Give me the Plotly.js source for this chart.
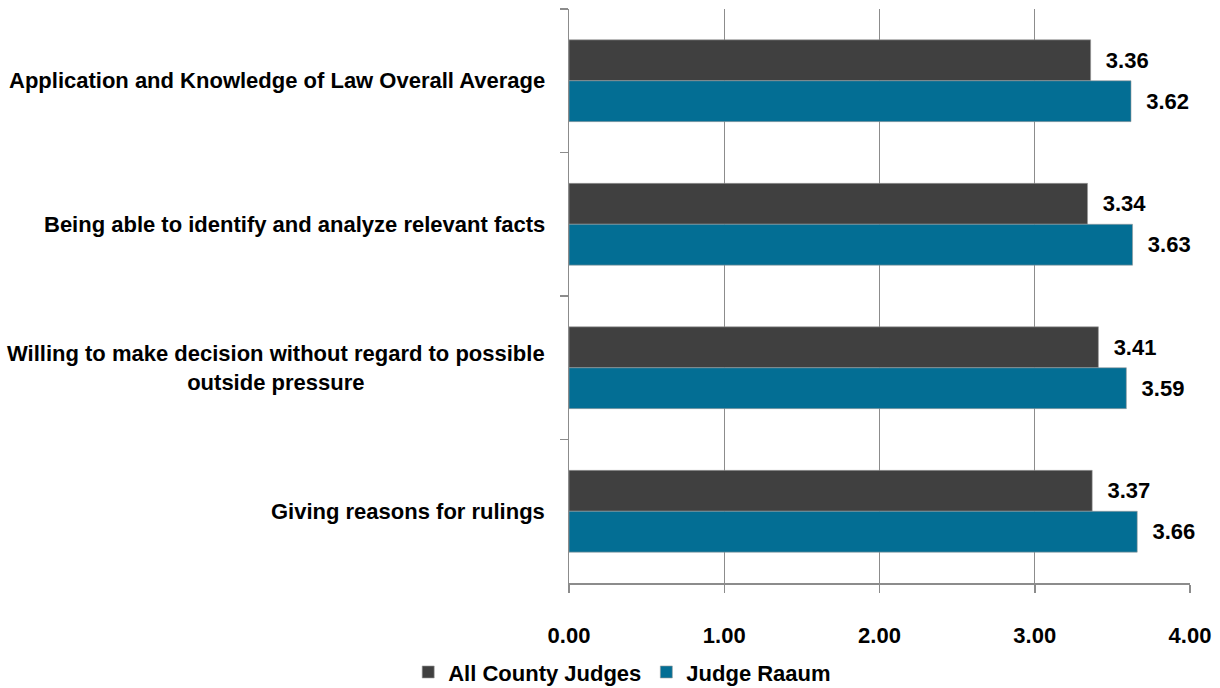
<!DOCTYPE html>
<html><head><meta charset="utf-8">
<script src="https://cdn.plot.ly/plotly-3.0.1.min.js"></script>
<style>html,body{margin:0;padding:0;background:#fff;}</style>
</head><body>
<div id="chart" style="width:1220px;height:688px;"></div>
<script>
const categories = [
  "Application and Knowledge of Law Overall Average",
  "Being able to identify and analyze relevant facts",
  "Willing to make decision without regard to possible<br>outside pressure",
  "Giving reasons for rulings"
];
const catKeys = ["c1","c2","c3","c4"];
const allCounty = [3.36, 3.34, 3.41, 3.37];
const judgeRaaum = [3.62, 3.63, 3.59, 3.66];
const seriesNames = ["All County Judges", "Judge Raaum"];
const xTicks = [0, 1, 2, 3, 4];
const xTickText = ["0.00", "1.00", "2.00", "3.00", "4.00"];

const FONT = "'Liberation Sans Narrow', 'Arial Narrow', 'Liberation Sans', Arial, sans-serif";

const common = {
  type: 'bar', orientation: 'h', y: catKeys,
  texttemplate: '  %{x:.2f}', textposition: 'outside', cliponaxis: false,
  textfont: {family: FONT, size: 22, color: '#000', weight: 'bold'},
  hoverinfo: 'skip'
};
const traces = [
  Object.assign({}, common, {x: allCounty, name: seriesNames[0],
    marker: {color: '#404040', line: {color: '#9a9a9a', width: 0.6}}}),
  Object.assign({}, common, {x: judgeRaaum, name: seriesNames[1],
    marker: {color: '#036e94', line: {color: '#9a9a9a', width: 0.6}}})
];

const annotations = categories.map((c, i) => ({
  text: '<b>' + c + '</b>', xref: 'paper', x: 0, xanchor: 'right', xshift: -22,
  yref: 'y', y: catKeys[i], yanchor: 'middle', align: 'center', showarrow: false,
  font: {family: FONT, size: 22, color: '#000'}
}));

const layout = {
  width: 1220, height: 688,
  margin: {l: 569, r: 30, t: 9, b: 105},
  paper_bgcolor: '#fff', plot_bgcolor: '#fff',
  barmode: 'group', bargap: 0.43, bargroupgap: 0,
  font: {family: FONT, color: '#000'},
  xaxis: {
    range: [0, 4], tickvals: xTicks, ticktext: xTickText,
    showgrid: true, gridcolor: '#8c8c8c', gridwidth: 1,
    showline: true, linecolor: '#8c8c8c', linewidth: 1.5,
    ticks: 'outside', ticklen: 8, tickcolor: '#8c8c8c', tickwidth: 1.5,
    ticklabelstandoff: 24,
    tickfont: {family: FONT, size: 22, color: '#000', weight: 'bold'},
    zeroline: false, fixedrange: true
  },
  yaxis: {
    type: 'category', autorange: 'reversed',
    showticklabels: false, showgrid: false,
    showline: true, linecolor: '#8c8c8c', linewidth: 1.5,
    ticks: 'outside', ticklen: 8, tickcolor: '#8c8c8c', tickwidth: 1.5,
    tickson: 'boundaries', fixedrange: true
  },
  showlegend: true,
  legend: {
    orientation: 'h', xref: 'container', yref: 'container',
    x: 0.51, xanchor: 'center', y: 0.023, yanchor: 'middle',
    font: {family: FONT, size: 22, color: '#000', weight: 'bold'},
    itemwidth: 30, traceorder: 'normal'
  },
  annotations: annotations
};

Plotly.newPlot('chart', traces, layout, {displayModeBar: false, staticPlot: true});
</script>
</body></html>
